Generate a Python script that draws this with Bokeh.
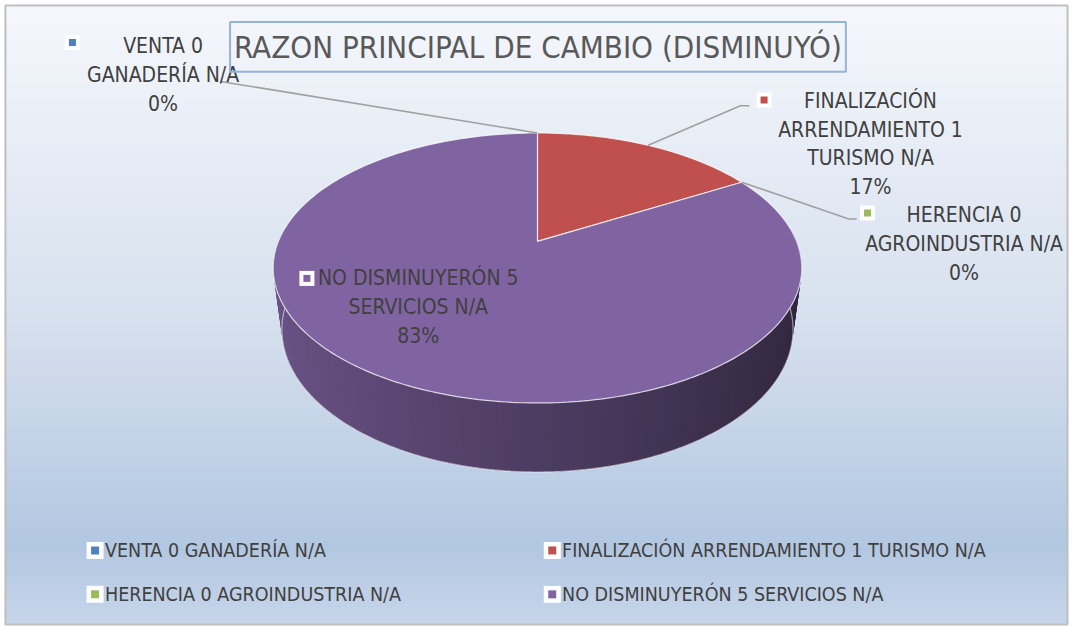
import math
from bokeh.plotting import figure
from bokeh.models import Range1d
from bokeh.core.properties import value
from bokeh.embed import file_html
from bokeh.resources import INLINE

# ---------------- data ----------------
categories = [
    "VENTA 0 GANADERÍA N/A",
    "FINALIZACIÓN ARRENDAMIENTO 1 TURISMO N/A",
    "HERENCIA 0 AGROINDUSTRIA N/A",
    "NO DISMINUYERÓN 5 SERVICIOS N/A",
]
values = [0, 1, 0, 5]
chart_title = "RAZON PRINCIPAL DE CAMBIO (DISMINUYÓ)"

# ---------------- styles / layout ----------------
slice_colors = ["#4F81BD", "#C0504D", "#9BBB59", "#8064A2"]
FONT = "'Liberation Sans Narrow', 'DejaVu Sans Condensed', 'Roboto', sans-serif"
TEXT_COLOR = "#404040"
TITLE_COLOR = "#595959"
LEADER_COLOR = "#a0a0a0"

# chart frame (reference pixel coordinates)
FX0, FX1, FY0, FY1 = 5, 1083, 5, 640

# data-label layout
label_wrap = [13, 15, 17, 17]
label_cx = [165, 883, 978, 424]
label_y0 = [47, 103, 220, 285]
label_marker = [(73, 43), (775, 102), (880, 218), (311, 285)]
label_elbow = [[(223, 83)], [(751, 108), (760, 108)], [(861, 224), (869, 224)], None]
LINE_STEP = 29.5

# legend layout
legend_marker_x = [96, 560, 96, 560]
legend_text_x = [106, 570, 106, 570]
legend_y = [564, 564, 609, 609]

# pie geometry (3D disk with perspective)
PCX, PCY = 545.0, 247.0
ELEV = math.asin(0.506)
DIST = math.cos(ELEV) / 0.197
HALFW = 263.0
FOC = HALFW * DIST
THICK = 0.285


def proj(theta_deg, yy, rad=1.0):
    t = math.radians(theta_deg)
    X = rad * math.sin(t)
    Z = rad * math.cos(t)
    depth = DIST + Z * math.cos(ELEV) - yy * math.sin(ELEV)
    up = yy * math.cos(ELEV) + Z * math.sin(ELEV)
    return PCX + FOC * X / depth, PCY - FOC * up / depth


def h2rgb(h):
    return tuple(int(h[i:i + 2], 16) for i in (1, 3, 5))


def rgb2h(c):
    return "#%02x%02x%02x" % tuple(int(round(max(0, min(255, v)))) for v in c)


def mix(c1, c2, t):
    return tuple(a + (b - a) * t for a, b in zip(c1, c2))


def wrap(text, width):
    words = text.split(" ")
    lines, cur = [], ""
    for w in words:
        cand = w if not cur else cur + " " + w
        if len(cand) <= width or not cur:
            cur = cand
        else:
            lines.append(cur)
            cur = w
    if cur:
        lines.append(cur)
    return lines


total = float(sum(values))
starts, ends = [], []
acc = 0.0
for v in values:
    starts.append(acc / total * 360.0)
    acc += v
    ends.append(acc / total * 360.0)
pcts = ["%d%%" % round(100.0 * v / total) for v in values]

# ---------------- figure ----------------
p = figure(width=1070, height=627, x_range=Range1d(0, 1086), y_range=Range1d(643, 0),
           output_backend="svg", toolbar_location=None, min_border=0,
           x_axis_location=None, y_axis_location=None)
p.grid.visible = False
p.outline_line_color = None
p.background_fill_color = "#ffffff"
p.border_fill_color = "#ffffff"

# background gradient
stops = [(FY0, h2rgb("#f5f7fc")), (330, h2rgb("#d6e0ee")), (560, h2rgb("#b2c7e1")), (FY1, h2rgb("#c6d5e9"))]
NB = 160
bt, bb, bc = [], [], []
for i in range(NB):
    y0 = FY0 + (FY1 - FY0) * i / NB
    y1 = FY0 + (FY1 - FY0) * (i + 1) / NB
    ym = (y0 + y1) / 2
    col = stops[-1][1]
    for (sa, ca), (sb, cb) in zip(stops[:-1], stops[1:]):
        if sa <= ym <= sb:
            col = mix(ca, cb, (ym - sa) / (sb - sa))
            break
    bt.append(y0 - 0.4)
    bb.append(y1 + 0.4)
    bc.append(rgb2h(col))
p.quad(left=FX0, right=FX1, top=bt, bottom=bb, fill_color=bc, line_color=None)

# side of disk (visible near half), shaded facets drawn with overlap to avoid seams
T_A, T_B = 84.0, 276.0
step = 1.5
facets = []
t = T_A
while t < T_B - 1e-9:
    t0 = t
    t1 = min(T_B, t + 2.2 * step)
    mid = t + step / 2
    idx = 0
    for k in range(len(values)):
        if values[k] > 0 and starts[k] <= mid % 360 < ends[k]:
            idx = k
    base = h2rgb(slice_colors[idx])
    fac = 0.61 - 0.225 * math.sin(math.radians(mid))
    col = rgb2h(tuple(c * fac for c in base))
    xs, ys = [], []
    nn = 4
    for j in range(nn + 1):
        q = proj(t0 + (t1 - t0) * j / nn, 0.0)
        xs.append(q[0]); ys.append(q[1])
    for j in range(nn, -1, -1):
        q = proj(t0 + (t1 - t0) * j / nn, -THICK)
        xs.append(q[0]); ys.append(q[1])
    facets.append((xs, ys, col))
    t += step
# draw from right (dark) side toward left so every seam is covered by the next facet
facets = facets[::-1]
p.patches(xs=[f[0] for f in facets], ys=[f[1] for f in facets],
          fill_color=[f[2] for f in facets], line_color=None)

# side outline highlight (bottom rim)
bx, by = [], []
for k in range(int(T_A) + 8, int(T_B) - 7):
    q = proj(k, -THICK)
    bx.append(q[0]); by.append(q[1])
p.line(bx, by, line_color="white", line_alpha=0.5, line_width=1.2)

# top face slices
wx, wy, wc = [], [], []
for k, v in enumerate(values):
    if v <= 0:
        continue
    xs, ys = [PCX], [proj(0, 0.0, 0.0)[1]]
    n = max(2, int(ends[k] - starts[k]) + 1)
    for j in range(n + 1):
        ang = starts[k] + (ends[k] - starts[k]) * j / n
        q = proj(ang, 0.0)
        xs.append(q[0]); ys.append(q[1])
    wx.append(xs); wy.append(ys); wc.append(slice_colors[k])
p.patches(xs=wx, ys=wy, fill_color=wc, line_color="white", line_alpha=0.75, line_width=1.2)

# leader lines
for k in range(len(values)):
    if label_elbow[k] is None:
        continue
    mid = (starts[k] + ends[k]) / 2
    anc = proj(mid, 0.0)
    lx = [anc[0]] + [e[0] for e in label_elbow[k]]
    ly = [anc[1]] + [e[1] for e in label_elbow[k]]
    p.line(lx, ly, line_color=LEADER_COLOR, line_width=1.6)

# data labels
tx, ty, tt = [], [], []
for k, name in enumerate(categories):
    lines = wrap(name, label_wrap[k]) + [pcts[k]]
    for j, ln in enumerate(lines):
        tx.append(label_cx[k]); ty.append(label_y0[k] + j * LINE_STEP); tt.append(ln)
p.text(x=tx, y=ty, text=tt, text_font=value(FONT), text_font_size="21px",
       text_color=TEXT_COLOR, text_align="center", text_baseline="middle")
p.scatter(x=[m[0] for m in label_marker], y=[m[1] for m in label_marker], marker="square",
          size=15, fill_color="white", line_color=None)
p.scatter(x=[m[0] for m in label_marker], y=[m[1] for m in label_marker], marker="square",
          size=7, fill_color=slice_colors, line_color=None)

# title
p.quad(left=233, right=858, top=22, bottom=73, fill_color=None, line_color="#95b3d7", line_width=2)
p.text(x=[545.5], y=[47.5], text=[chart_title], text_font=value(FONT), text_font_size="31px",
       text_color=TITLE_COLOR, text_align="center", text_baseline="middle")

# legend
p.scatter(x=legend_marker_x, y=legend_y, marker="square", size=17, fill_color="white", line_color=None)
p.scatter(x=legend_marker_x, y=legend_y, marker="square", size=8, fill_color=slice_colors, line_color=None)
p.text(x=legend_text_x, y=legend_y, text=categories, text_font=value(FONT), text_font_size="19.5px",
       text_color=TEXT_COLOR, text_align="left", text_baseline="middle")

# area outside the chart frame and frame border
p.quad(left=[FX1, 0], right=[1086, FX0], top=[0, 0], bottom=[643, 643], fill_color="white", line_color=None)
p.quad(left=FX0, right=FX1, top=FY0, bottom=FY1, fill_color=None, line_color="#bfbfbf", line_width=2)

open("out.html", "w").write(file_html(p, INLINE))
